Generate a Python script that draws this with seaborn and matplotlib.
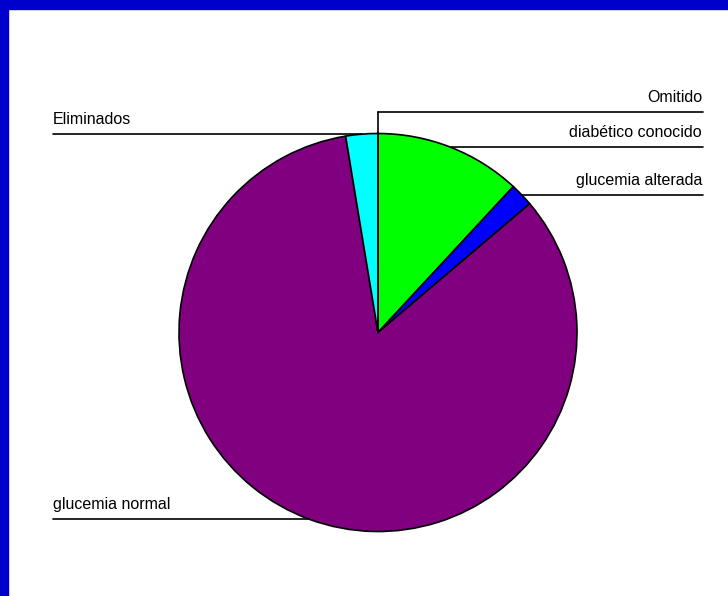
import matplotlib
matplotlib.use("Agg")
import matplotlib.pyplot as plt
import numpy as np
import seaborn as sns
from matplotlib.patches import Rectangle

# slice shares (%), clockwise from 12 o'clock
labels = ["Omitido", "diabético conocido", "glucemia alterada", "glucemia normal", "Eliminados"]
values = [0.0, 11.9, 1.9, 83.6, 2.6]
colors = ["#FFFFFF", "#00FF00", "#0000FF", "#800080", "#00FFFF"]

sns.set_style("white")
plt.rcParams['font.family'] = ['Liberation Sans', 'DejaVu Sans']
plt.rcParams['text.color'] = 'black'

W, H = 728, 596
fig = plt.figure(figsize=(W / 100, H / 100), dpi=100)
ax = fig.add_axes([0, 0, 1, 1])

cx, cy, r = 378, H - 332.5, 199
wedges, _ = ax.pie(values, colors=colors, startangle=90, counterclock=False,
                   center=(cx, cy), radius=r,
                   wedgeprops=dict(edgecolor='black', linewidth=1.2))
ax.set_xlim(0, W)
ax.set_ylim(0, H)
ax.axis('off')

# leader lines: horizontal from the slice's edge midpoint to the margin
for w, lab in zip(wedges, labels):
    ang = np.deg2rad((w.theta1 + w.theta2) / 2)
    x = cx + r * np.cos(ang)
    y = cy + r * np.sin(ang)
    ly = y
    if lab == "Omitido":
        ly = y + 22
        ax.plot([x, x], [cy, ly], color='black', lw=1.2)
    if x >= cx - 1e-6:
        ax.plot([x, 703], [ly, ly], color='black', lw=1.2)
        ax.text(702, ly + 7, lab, ha='right', va='bottom', fontsize=11.5, color='black')
    else:
        ax.plot([53, x], [ly, ly], color='black', lw=1.2)
        ax.text(53, ly + 7, lab, ha='left', va='bottom', fontsize=11.5, color='black')

# blue frame along the top and left edges
fig.patches.append(Rectangle((0, 1 - 9 / H), 1, 9 / H, transform=fig.transFigure,
                             color='#0000CC', zorder=10))
fig.patches.append(Rectangle((0, 0), 8 / W, 1, transform=fig.transFigure,
                             color='#0000CC', zorder=10))

fig.savefig("out.png", dpi=100)
